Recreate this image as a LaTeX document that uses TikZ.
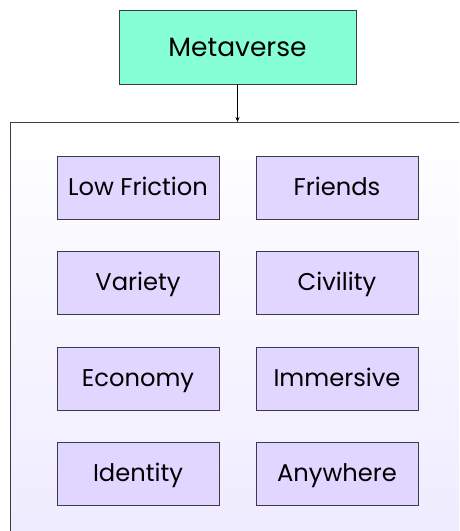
\documentclass[tikz,border=0pt]{standalone}
\usepackage{fontspec}
\setmainfont{Poppins}
\usetikzlibrary{arrows.meta}
\definecolor{mint}{HTML}{87FFD6}
\definecolor{lilac}{HTML}{E0D6FF}
\definecolor{panelbot}{HTML}{EFEBFF}
\definecolor{edge}{HTML}{3A3A48}
\begin{document}
\begin{tikzpicture}[x=1pt,y=1pt,
  topbox/.style={draw=edge, line width=0.8pt, fill=mint, minimum width=237pt, minimum height=74pt, inner sep=0pt,
    text height=18.3pt, text depth=0pt, font=\fontsize{26.5}{30}\selectfont},
  itembox/.style={draw=edge, line width=0.8pt, fill=lilac, minimum width=162pt, minimum height=63pt, inner sep=0pt,
    text height=17pt, text depth=0pt, font=\fontsize{24.2}{28}\selectfont},
  link/.style={draw=black, line width=0.6pt, -{Stealth[length=5pt,width=4pt]}}]
\useasboundingbox (0,0) rectangle (459,531);
\begin{scope}
\clip (0,0) rectangle (459,531);
\shade[top color=white, bottom color=panelbot, draw=edge, line width=0.8pt] (10,-10) rectangle (470,409);
\end{scope}
\coordinate (paneltop) at (237.5,409);
\node[topbox] (meta) at (237.5,484) {Metaverse};
\draw[link] (meta.south) -- (paneltop);
\node[itembox] (lowf) at (138,343.5) {Low Friction};
\node[itembox] (friends) at (337,343.5) {Friends};
\node[itembox] (variety) at (138,248.5) {Variety};
\node[itembox] (civil) at (337,248.5) {Civility};
\node[itembox] (econ) at (138,152.5) {Economy};
\node[itembox] (immer) at (337,152.5) {Immersive};
\node[itembox] (ident) at (138,57.5) {Identity};
\node[itembox] (anyw) at (337,57.5) {Anywhere};
\end{tikzpicture}
\end{document}
